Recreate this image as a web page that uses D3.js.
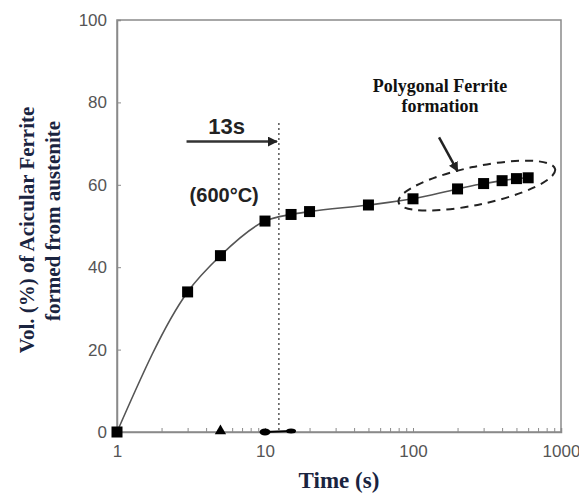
<!DOCTYPE html>
<html>
<head>
<meta charset="utf-8">
<script src="https://cdn.jsdelivr.net/npm/d3@7"></script>
<style>
  body { margin: 0; background: #fff; }
  .tick text { font-family: Arial, "Liberation Sans", sans-serif; font-size: 17px; fill: #555; }
</style>
</head>
<body>
<svg id="chart" width="579" height="498"></svg>
<script>
// data
const times = [1, 3, 5, 10, 15, 20, 50, 100, 200, 300, 400, 500, 600]
const vol = [0, 34, 42.8, 51.2, 52.8, 53.5, 55.1, 56.6, 59, 60.3, 61, 61.5, 61.7]
const baseTimes = [5, 10, 15]
const baseVol = [0, 0, 0]
const xTicks = [1, 10, 100, 1000]
const yTicks = [0, 20, 40, 60, 80, 100]
const startTime = 13

const W = 579, H = 498
const margin = {left: 117, right: 18, top: 20, bottom: 66}

const svg = d3.select('#chart')

const x = d3.scaleLog().domain([1, 1000]).range([margin.left, W - margin.right])
const y = d3.scaleLinear().domain([0, 100]).range([H - margin.bottom, margin.top])

// frame
svg.append('rect')
  .attr('x', x(1)).attr('y', y(100))
  .attr('width', x(1000) - x(1)).attr('height', y(0) - y(100))
  .attr('fill', 'none').attr('stroke', '#8a8a8a').attr('stroke-width', 1.5)

// y axis
const yAxis = svg.append('g')
  .attr('transform', `translate(${x(1)},0)`)
  .call(d3.axisLeft(y).tickValues(yTicks).tickSize(-4).tickPadding(10))
yAxis.select('.domain').attr('stroke', '#8a8a8a').attr('stroke-width', 1.5)
yAxis.selectAll('.tick line').attr('stroke', '#8a8a8a')

// x axis, minor ticks inward
const minor = []
for (let d = 1; d < 1000; d *= 10) for (let k = 1; k < 10; k++) minor.push(d * k)
minor.push(1000)
const xAxis = svg.append('g')
  .attr('transform', `translate(0,${y(0)})`)
  .call(d3.axisBottom(x).tickValues(minor).tickSize(-4).tickPadding(13)
    .tickFormat(d => xTicks.includes(d) ? d : ''))
xAxis.select('.domain').attr('stroke', '#8a8a8a').attr('stroke-width', 1.5)
xAxis.selectAll('.tick line').attr('stroke', '#8a8a8a')

// curve
const pts = times.map((t, i) => [t, vol[i]])
svg.append('path')
  .datum(pts)
  .attr('d', d3.line().x(d => x(d[0])).y(d => y(d[1])).curve(d3.curveMonotoneX))
  .attr('fill', 'none').attr('stroke', '#555').attr('stroke-width', 1.6)

svg.selectAll('.pt').data(pts).join('rect')
  .attr('class', 'pt')
  .attr('x', d => x(d[0]) - 5.5).attr('y', d => y(d[1]) - 5.5)
  .attr('width', 11).attr('height', 11).attr('fill', '#000')

// markers lying on the zero line
svg.append('path')
  .attr('d', `M${x(baseTimes[1])},${y(0)}L${x(baseTimes[2])},${y(0) - 1}`)
  .attr('stroke', '#000').attr('stroke-width', 2)
svg.append('path')
  .attr('d', d3.symbol(d3.symbolTriangle, 55)())
  .attr('transform', `translate(${x(baseTimes[0])},${y(baseVol[0]) - 1})`)
svg.append('ellipse')
  .attr('cx', x(baseTimes[1])).attr('cy', y(baseVol[1]))
  .attr('rx', 5.5).attr('ry', 3.5)
svg.append('ellipse')
  .attr('cx', x(baseTimes[2])).attr('cy', y(baseVol[2]) - 1)
  .attr('rx', 5).attr('ry', 2.5)

// dotted line at 13 s
svg.append('line')
  .attr('x1', x(startTime) - 3).attr('x2', x(startTime) - 3)
  .attr('y1', y(75)).attr('y2', y(0))
  .attr('stroke', '#555').attr('stroke-width', 1.5).attr('stroke-dasharray', '2,3')

// arrow heads
const defs = svg.append('defs')
defs.append('marker').attr('id', 'ah')
  .attr('viewBox', '0 0 10 10').attr('refX', 9).attr('refY', 5)
  .attr('markerWidth', 4).attr('markerHeight', 4).attr('orient', 'auto')
  .append('path').attr('d', 'M0,0L10,5L0,10z').attr('fill', '#222')

svg.append('line')
  .attr('x1', x(2.95)).attr('x2', x(startTime) - 5)
  .attr('y1', y(70.5)).attr('y2', y(70.5))
  .attr('stroke', '#333').attr('stroke-width', 2.5).attr('marker-end', 'url(#ah)')

svg.append('text')
  .attr('x', x(5.5)).attr('y', y(72.4))
  .attr('text-anchor', 'middle')
  .attr('font-family', 'Arial, "Liberation Sans", sans-serif')
  .attr('font-weight', 'bold').attr('font-size', 22).attr('fill', '#222')
  .text('13s')

svg.append('text')
  .attr('x', x(5.3)).attr('y', y(55.8))
  .attr('text-anchor', 'middle')
  .attr('font-family', 'Arial, "Liberation Sans", sans-serif')
  .attr('font-weight', 'bold').attr('font-size', 20).attr('fill', '#222')
  .text('(600°C)')

// polygonal ferrite annotation
const serif = '"Liberation Serif", "DejaVu Serif", serif'
const ann = svg.append('text')
  .attr('text-anchor', 'middle')
  .attr('font-family', serif).attr('font-weight', 'bold')
  .attr('font-size', 18).attr('fill', '#111')
ann.append('tspan').attr('x', 440).attr('y', y(82.6)).text('Polygonal Ferrite')
ann.append('tspan').attr('x', 440).attr('y', y(77.6)).text('formation')

svg.append('line')
  .attr('x1', x(150)).attr('y1', y(71.5))
  .attr('x2', x(200)).attr('y2', y(63.3))
  .attr('stroke', '#222').attr('stroke-width', 2.5).attr('marker-end', 'url(#ah)')

svg.append('ellipse')
  .attr('cx', 0).attr('cy', 0).attr('rx', 80).attr('ry', 19)
  .attr('transform', `translate(${x(270)},${y(59.8)}) rotate(-12)`)
  .attr('fill', 'none').attr('stroke', '#222').attr('stroke-width', 2)
  .attr('stroke-dasharray', '8,6')

// axis titles
const navy = '#1a2440'
svg.append('text')
  .attr('x', x(31.6)).attr('y', 488)
  .attr('text-anchor', 'middle')
  .attr('font-family', serif).attr('font-weight', 'bold')
  .attr('font-size', 23).attr('fill', navy)
  .text('Time (s)')

const yt = svg.append('text')
  .attr('transform', 'rotate(-90)')
  .attr('text-anchor', 'middle')
  .attr('font-family', serif).attr('font-weight', 'bold')
  .attr('font-size', 21).attr('fill', navy)
yt.append('tspan').attr('x', -230).attr('y', 34).text('Vol. (%) of Acicular Ferrite')
yt.append('tspan').attr('x', -221).attr('y', 60).text('formed from austenite')
</script>
</body>
</html>
